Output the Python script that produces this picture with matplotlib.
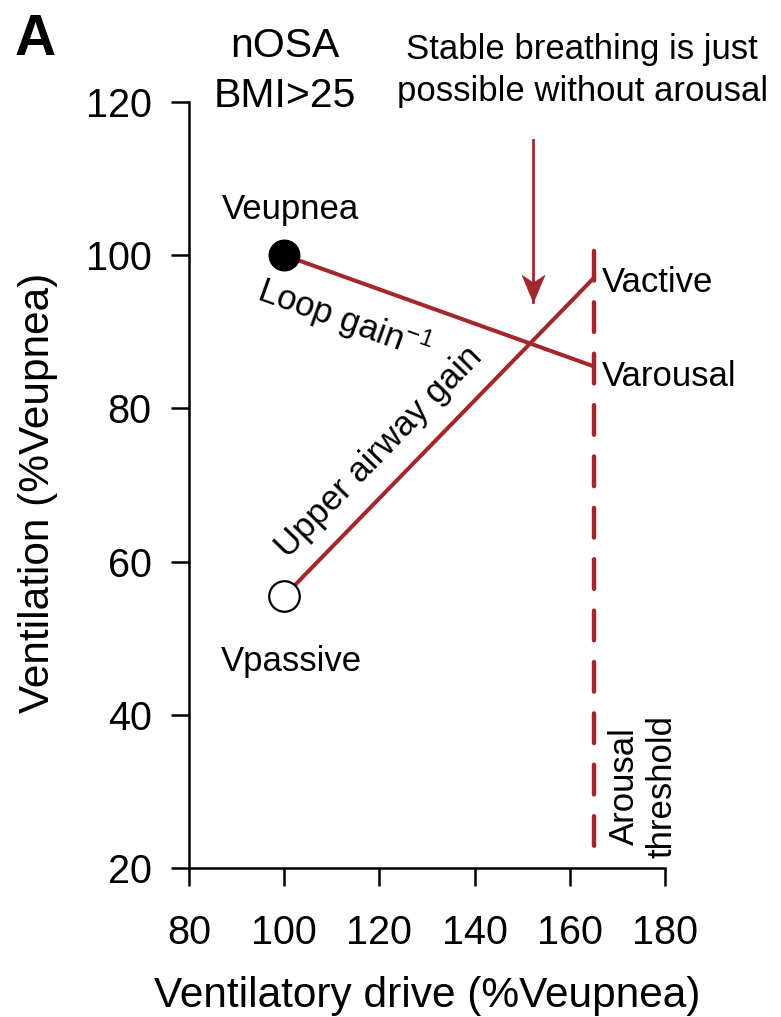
#!/usr/bin/env python3
"""
Ventilatory control diagram: loop gain vs upper airway gain (nOSA, BMI>25).
"""

import numpy as np
import matplotlib
matplotlib.use("Agg")
import matplotlib.pyplot as plt
from matplotlib.path import Path

# Drive / ventilation values (% of eupnea)
eupnea_pt = (100, 100)
passive_pt = (100, 55.5)
loop_drive = [100, 165]
loop_vent = [100, 85.5]
airway_drive = [100, 165]
airway_vent = [55.5, 97]
arousal_drive = 165
arousal_span = [100.5, 22]
arrow_drive = 152.2
arrow_span = [115, 93.9]

x_ticks = [80, 100, 120, 140, 160, 180]
y_ticks = [20, 40, 60, 80, 100, 120]

RED = "#A3262A"

plt.rcParams["font.family"] = ["Liberation Sans", "DejaVu Sans"]
plt.rcParams["mathtext.fontset"] = "custom"
plt.rcParams["mathtext.rm"] = "Liberation Sans"
plt.rcParams["mathtext.default"] = "regular"

fig = plt.figure(figsize=(7.81, 10.17), dpi=100)
ax = fig.add_axes([0.242, 0.1465, 0.6095, 0.7532])
ax.set_xlim(80, 180)
ax.set_ylim(20, 120)

for side in ("top", "right"):
    ax.spines[side].set_visible(False)
for side in ("left", "bottom"):
    ax.spines[side].set_linewidth(1.8)

ax.set_xticks(x_ticks)
ax.set_yticks(y_ticks)
ax.tick_params(axis="both", direction="out", length=13, width=1.8, labelsize=28.5)
ax.tick_params(axis="x", pad=20)
ax.tick_params(axis="y", pad=14)

ax.set_xlabel("Ventilatory drive (%Veupnea)", fontsize=30.5)
ax.set_ylabel("Ventilation (%Veupnea)", fontsize=30.5)
ax.xaxis.set_label_coords(0.5, -0.141)
ax.yaxis.set_label_coords(-0.275, 0.49)

# gain lines and arousal threshold
ax.plot(loop_drive, loop_vent, color=RED, lw=2.9, clip_on=False, zorder=3)
ax.plot(airway_drive, airway_vent, color=RED, lw=2.9, clip_on=False, zorder=3)
ax.plot([arousal_drive] * 2, arousal_span, color=RED, lw=3.2,
        dashes=(6.66, 4.9), dash_capstyle="round", clip_on=False, zorder=2)

ax.plot(*eupnea_pt, "o", ms=22, mfc="black", mec="black", clip_on=False, zorder=5)
ax.plot(*passive_pt, "o", ms=22, mfc="white", mec="black", mew=1.6,
        clip_on=False, zorder=5)

# downward arrow with a notched head (tip sits at the path origin)
head = Path([(0, 0), (-0.42, 1), (0, 0.72), (0.42, 1), (0, 0)],
            [Path.MOVETO, Path.LINETO, Path.LINETO, Path.LINETO, Path.CLOSEPOLY])
ax.plot([arrow_drive] * 2, arrow_span, color=RED, lw=2, clip_on=False, zorder=3)
ax.plot(arrow_drive, arrow_span[1], marker=head, ms=39, mfc=RED, mec=RED,
        mew=0.5, clip_on=False, zorder=4)


def screen_angle(xs, ys):
    p0 = ax.transData.transform((xs[0], ys[0]))
    p1 = ax.transData.transform((xs[1], ys[1]))
    return np.degrees(np.arctan2(p1[1] - p0[1], p1[0] - p0[0]))


txt = dict(fontsize=25, clip_on=False)
ax.text(100.2, 125.9, "nOSA", ha="center", va="baseline", fontsize=29.5, clip_on=False)
ax.text(100.2, 119.3, "BMI>25", ha="center", va="baseline", fontsize=29.5, clip_on=False)
ax.text(162.6, 125.6, "Stable breathing is just", ha="center", va="baseline", **txt)
ax.text(162.6, 120.1, "possible without arousal", ha="center", va="baseline", **txt)

ax.text(101.3, 104.7, "Veupnea", ha="center", va="baseline", **txt)
ax.text(101.5, 45.7, "Vpassive", ha="center", va="baseline", **txt)
ax.text(166.7, 95.2, "Vactive", ha="left", va="baseline", **txt)
ax.text(166.7, 82.9, "Varousal", ha="left", va="baseline", **txt)
ax.text(175.4, 30.7, "Arousal\nthreshold", ha="center", va="center",
        rotation=90, multialignment="center", **txt)

ax.text(93.9, 94.25, "Loop gain$^{-1}$", ha="left", va="baseline",
        rotation=screen_angle(loop_drive, loop_vent), rotation_mode="anchor", **txt)
ax.text(100.8, 60.3, "Upper airway gain", ha="left", va="baseline",
        rotation=screen_angle(airway_drive, airway_vent), rotation_mode="anchor", **txt)

fig.text(0.019, 0.987, "A", ha="left", va="top", fontsize=41, fontweight="bold")

fig.savefig("out.png", dpi=100)
